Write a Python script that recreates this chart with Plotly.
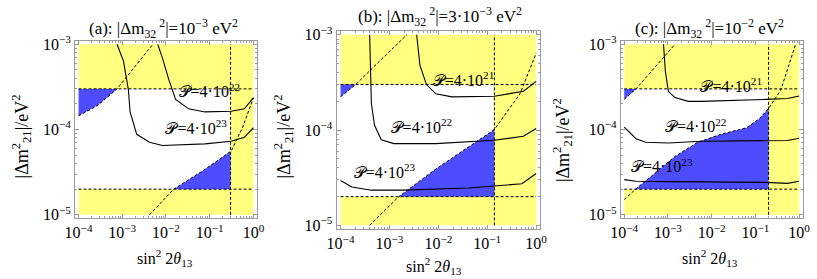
import numpy as np
import plotly.graph_objects as go

W, H = 817, 279

# ---------------- data ----------------
dm21_low, dm21_high = 2e-5, 3e-4          # horizontal dashed bounds
x_lim = [1e-4, 1.0]
y_lim = [1e-5, 1e-3]
titles = ["(a): |Δm<sub>32</sub><sup> 2</sup>|=10<sup>−3</sup> eV<sup>2</sup>",
          "(b): |Δm<sub>32</sub><sup> 2</sup>|=3·10<sup>−3</sup> eV<sup>2</sup>",
          "(c): |Δm<sub>32</sub><sup> 2</sup>|=10<sup>−2</sup> eV<sup>2</sup>"]
sin_limit = [0.3, 0.14, 0.2]              # vertical dashed bound per panel

x_tickvals = [1e-4, 1e-3, 1e-2, 1e-1, 1.0]
x_ticktext = ["10<sup>−4</sup>", "10<sup>−3</sup>", "10<sup>−2</sup>", "10<sup>−1</sup>", "10<sup>0</sup>"]
y_tickvals = [1e-5, 1e-4, 1e-3]
y_ticktext = ["10<sup>−5</sup>", "10<sup>−4</sup>", "10<sup>−3</sup>"]

# panel (a)
a_up_x = [1.0e-4, 2.7e-4, 7.6e-4, 1.95e-3, 5.0e-3]
a_up_y = [1.45e-4, 1.91e-4, 3.0e-4, 5.4e-4, 1.0e-3]
a_lo_x = [4.2e-3, 1.5e-2, 7.1e-2, 0.31, 0.56, 1.0]
a_lo_y = [1.0e-5, 2.0e-5, 3.3e-5, 5.6e-5, 1.05e-4, 2.35e-4]
a_p22_x = [6.5e-3, 8.3e-3, 1.17e-2, 1.66e-2, 3.3e-2, 7.8e-2, 0.31, 0.62, 1.0]
a_p22_y = [1.0e-3, 6.9e-4, 3.8e-4, 2.26e-4, 1.75e-4, 1.61e-4, 1.64e-4, 1.75e-4, 2.37e-4]
a_p23_x = [7.6e-4, 1.07e-3, 1.38e-3, 1.51e-3, 2.14e-3, 4.2e-3, 8.3e-3, 7.8e-2, 0.31, 0.62, 1.0]
a_p23_y = [1.0e-3, 6.3e-4, 2.93e-4, 1.61e-4, 8.8e-5, 7.1e-5, 6.5e-5, 6.8e-5, 7.3e-5, 8.1e-5, 1.05e-4]

# panel (b)
b_up_x = [1.0e-4, 2.0e-4, 6.8e-4, 2.28e-3]
b_up_y = [2.23e-4, 2.97e-4, 5.5e-4, 1.0e-3]
b_lo_x = [3.94e-4, 1.55e-3, 8.9e-3, 4.1e-2, 0.139, 0.468, 1.0]
b_lo_y = [1.0e-5, 2.0e-5, 3.9e-5, 6.6e-5, 1.01e-4, 2.4e-4, 6.4e-4]
b_p21_x = [3.6e-3, 4.2e-3, 5.7e-3, 8.9e-3, 1.9e-2, 0.139, 0.55, 1.0]
b_p21_y = [1.0e-3, 4.8e-4, 3.0e-4, 2.4e-4, 2.23e-4, 2.26e-4, 2.55e-4, 3.24e-4]
b_p22_x = [3.94e-4, 4.27e-4, 4.95e-4, 6.8e-4, 1.23e-3, 8.9e-3, 0.139, 0.55, 1.0]
b_p22_y = [1.0e-3, 1.9e-4, 1.12e-4, 7.9e-5, 7.2e-5, 7.2e-5, 7.8e-5, 8.6e-5, 1.04e-4]
b_p23_x = [1.0e-4, 1.7e-4, 4.27e-4, 1.95e-3, 4.1e-2, 0.51, 1.0]
b_p23_y = [2.95e-5, 2.53e-5, 2.34e-5, 2.34e-5, 2.47e-5, 2.73e-5, 3.5e-5]

# panel (c)
c_up_x = [1.0e-4, 1.86e-4, 1.45e-3]
c_up_y = [2.26e-4, 3.0e-4, 1.0e-3]
c_lo_x = [1.0e-4, 1.86e-4, 4.4e-4, 1.45e-3, 4.8e-3, 1.62e-2, 6.3e-2, 0.126, 0.21, 0.38, 0.83]
c_lo_y = [1.51e-5, 2.02e-5, 2.9e-5, 4.84e-5, 7.1e-5, 8.8e-5, 1.05e-4, 1.35e-4, 1.83e-4, 2.9e-4, 1.0e-3]
c_p21_x = [7.9e-4, 8.7e-4, 1.02e-3, 1.45e-3, 2.9e-3, 5.8e-3, 0.177, 0.54, 1.0]
c_p21_y = [1.0e-3, 4.9e-4, 2.8e-4, 2.37e-4, 2.14e-4, 2.14e-4, 2.26e-4, 2.31e-4, 2.47e-4]
c_p22_x = [1.0e-4, 1.86e-4, 3.1e-4, 1.02e-3, 5.8e-3, 0.177, 0.54, 1.0]
c_p22_y = [1.07e-4, 7.8e-5, 7.1e-5, 6.95e-5, 7.3e-5, 7.3e-5, 7.45e-5, 7.9e-5]
c_p23_x = [1.0e-4, 1.86e-4, 1.02e-3, 0.177, 0.54, 1.0]
c_p23_y = [2.59e-5, 2.48e-5, 2.45e-5, 2.4e-5, 2.34e-5, 2.48e-5]

# contour labels: (text, x, y) per panel
a_labels = [("𝒫=4·10<sup>22</sup>", 9.8e-2, 2.65e-4), ("𝒫=4·10<sup>23</sup>", 4.9e-2, 1.0e-4)]
b_labels = [("𝒫=4·10<sup>21</sup>", 3.27e-2, 3.2e-4), ("𝒫=4·10<sup>22</sup>", 4.5e-3, 1.03e-4),
            ("𝒫=4·10<sup>23</sup>", 7.9e-4, 3.44e-5)]
c_labels = [("𝒫=4·10<sup>21</sup>", 2.8e-2, 3.06e-4), ("𝒫=4·10<sup>22</sup>", 4.3e-3, 1.03e-4),
            ("𝒫=4·10<sup>23</sup>", 7.2e-4, 3.5e-5)]

# ---------------- layout geometry (pixels) ----------------
frames = [(66.5, 252.5, 34.5, 220.5), (334, 542, 24, 232), (624.5, 810.5, 34.5, 220.5)]
title_pos = [(157, 22), (440, 9), (715, 22)]
ylab_pos = [(12, 135), (280, 135), (565, 139)]
xlab_pos = [(159, 262), (434, 271), (716, 262)]

YELLOW = "#FFFF80"
BLUE = "#4D4DFF"
FRAME = "#9a9a9a"
FONT = "Liberation Serif"


def clip_poly(pts, xmin, xmax, ymin, ymax):
    def clip(pts, inside, inter):
        out = []
        n = len(pts)
        for i in range(n):
            cur, prev = pts[i], pts[i - 1]
            ci, pi = inside(cur), inside(prev)
            if ci:
                if not pi:
                    out.append(inter(prev, cur))
                out.append(cur)
            elif pi:
                out.append(inter(prev, cur))
        return out

    def ix(v):
        return lambda p, q: (v, p[1] + (q[1] - p[1]) * (v - p[0]) / (q[0] - p[0]))

    def iy(v):
        return lambda p, q: (p[0] + (q[0] - p[0]) * (v - p[1]) / (q[1] - p[1]), v)

    pts = clip(pts, lambda p: p[0] >= xmin, ix(xmin))
    pts = clip(pts, lambda p: p[0] <= xmax, ix(xmax))
    pts = clip(pts, lambda p: p[1] >= ymin, iy(ymin))
    pts = clip(pts, lambda p: p[1] <= ymax, iy(ymax))
    return pts


panels = [
    dict(up=(a_up_x, a_up_y), lo=(a_lo_x, a_lo_y),
         curves=[(a_p22_x, a_p22_y), (a_p23_x, a_p23_y)], labels=a_labels),
    dict(up=(b_up_x, b_up_y), lo=(b_lo_x, b_lo_y),
         curves=[(b_p21_x, b_p21_y), (b_p22_x, b_p22_y), (b_p23_x, b_p23_y)], labels=b_labels),
    dict(up=(c_up_x, c_up_y), lo=(c_lo_x, c_lo_y),
         curves=[(c_p21_x, c_p21_y), (c_p22_x, c_p22_y), (c_p23_x, c_p23_y)], labels=c_labels),
]

fig = go.Figure()
layout = dict(width=W, height=H, margin=dict(l=0, r=0, t=0, b=0),
              paper_bgcolor="white", plot_bgcolor="white", showlegend=False,
              annotations=[])

minor_x = [m * 10.0 ** e for e in range(-4, 0) for m in range(2, 10)]
minor_y = [m * 10.0 ** e for e in range(-5, -3) for m in range(2, 10)]

lx0, lx1 = np.log10(x_lim)
ly0, ly1 = np.log10(y_lim)
lylo, lyhi = np.log10(dm21_low), np.log10(dm21_high)

for i, p in enumerate(panels):
    sfx = "" if i == 0 else str(i + 1)
    xa, ya = "x" + sfx, "y" + sfx
    xs = sin_limit[i]
    lxs = np.log10(xs)

    def add(**kw):
        fig.add_trace(go.Scatter(xaxis=xa, yaxis=ya, hoverinfo="skip", **kw))

    # yellow excluded regions
    rects = [(x_lim[0], x_lim[1], y_lim[0], dm21_low),
             (x_lim[0], x_lim[1], dm21_high, y_lim[1]),
             (xs, x_lim[1], dm21_low, dm21_high)]
    for (x0, x1, y0, y1) in rects:
        add(x=[x0, x1, x1, x0, x0], y=[y0, y0, y1, y1, y0], mode="lines",
            fill="toself", fillcolor=YELLOW, line=dict(width=0, color=YELLOW))

    # blue regions: below lower dashed curve, above upper dashed curve, inside allowed box
    lo = list(zip(np.log10(p["lo"][0]), np.log10(p["lo"][1])))
    poly_lo = lo + [(3, lo[-1][1]), (3, -8), (lo[0][0], -8)]
    up = list(zip(np.log10(p["up"][0]), np.log10(p["up"][1])))
    poly_up = up + [(up[-1][0], 0), (-8, 0), (-8, up[0][1])]
    for poly in (poly_lo, poly_up):
        c = clip_poly(poly, lx0, lxs, lylo, lyhi)
        if len(c) >= 3:
            c = c + [c[0]]
            add(x=[10 ** q[0] for q in c], y=[10 ** q[1] for q in c], mode="lines",
                fill="toself", fillcolor=BLUE, line=dict(width=0, color=BLUE))

    dash = dict(color="black", width=1, dash="3px,2px")
    # horizontal / vertical dashed bounds
    for yv in (dm21_low, dm21_high):
        add(x=x_lim, y=[yv, yv], mode="lines", line=dash)
    add(x=[xs, xs], y=y_lim, mode="lines", line=dash)
    # diagonal dashed curves
    add(x=p["lo"][0], y=p["lo"][1], mode="lines", line=dash)
    add(x=p["up"][0], y=p["up"][1], mode="lines", line=dash)

    # contour curves
    for (cx, cy) in p["curves"]:
        add(x=cx, y=cy, mode="lines", line=dict(color="black", width=1.1))

    for (t, tx, ty) in p["labels"]:
        add(x=[tx], y=[ty], mode="text", text=[t],
            textfont=dict(family=FONT, size=16, color="black"), textposition="middle center")

    fl, fr, ft, fb = frames[i]
    common = dict(type="log", showgrid=False, zeroline=False, showline=True,
                  linecolor=FRAME, linewidth=1, mirror="allticks", ticks="inside",
                  ticklen=4, tickwidth=1, tickcolor=FRAME,
                  tickfont=dict(family=FONT, size=16, color="black"))
    layout["xaxis" + sfx] = dict(common, range=[-4.08, 0.08], domain=[fl / W, fr / W],
                                 anchor=ya, tickmode="array", tickvals=x_tickvals,
                                 ticktext=x_ticktext,
                                 minor=dict(tickmode="array", tickvals=minor_x, ticks="inside",
                                            ticklen=2, tickcolor=FRAME))
    layout["yaxis" + sfx] = dict(common, range=[-5.04, -2.96], domain=[1 - fb / H, 1 - ft / H],
                                 anchor=xa, tickmode="array", tickvals=y_tickvals,
                                 ticktext=y_ticktext,
                                 minor=dict(tickmode="array", tickvals=minor_y, ticks="inside",
                                            ticklen=2, tickcolor=FRAME))

    tx, ty = title_pos[i]
    layout["annotations"].append(dict(text=titles[i], x=tx / W, y=1 - ty / H, xref="paper",
                                      yref="paper", showarrow=False, xanchor="center",
                                      yanchor="middle",
                                      font=dict(family=FONT, size=17, color="black")))
    yx, yy = ylab_pos[i]
    layout["annotations"].append(dict(text="|Δm<sup>2</sup><sub>21</sub>|/eV<sup>2</sup>",
                                      x=yx / W, y=1 - yy / H, xref="paper", yref="paper",
                                      showarrow=False, textangle=-90, xanchor="center",
                                      yanchor="middle",
                                      font=dict(family=FONT, size=18, color="black")))
    xx, xy = xlab_pos[i]
    layout["annotations"].append(dict(text="sin<sup>2</sup> 2<i>θ</i><sub>13</sub>",
                                      x=xx / W, y=1 - xy / H, xref="paper", yref="paper",
                                      showarrow=False, xanchor="center", yanchor="middle",
                                      font=dict(family=FONT, size=16, color="black")))

fig.update_layout(**layout)
fig.write_html("out.html", config={"displayModeBar": False, "staticPlot": True},
               post_script="document.body.style.margin='0';document.body.style.overflow='hidden';")
